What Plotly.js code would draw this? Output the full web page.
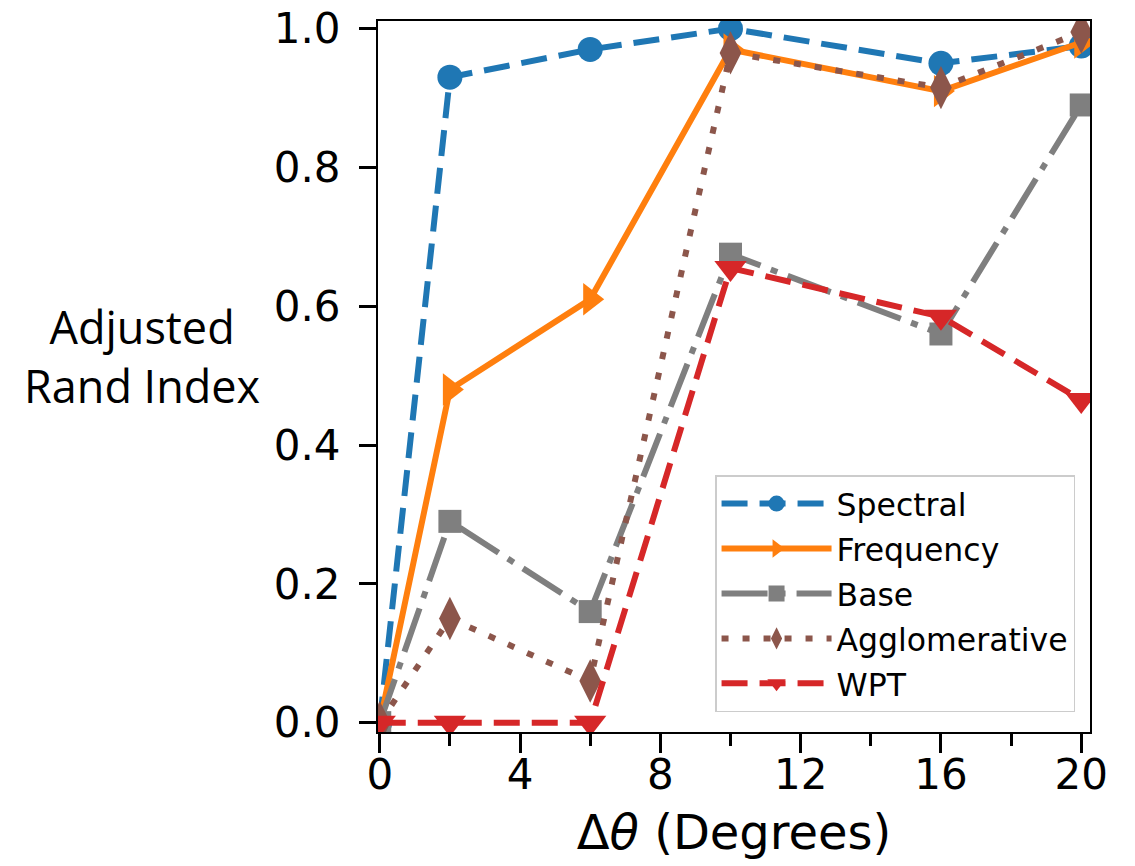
<!DOCTYPE html>
<html>
<head>
<meta charset="utf-8">
<script src="https://cdn.plot.ly/plotly-3.0.1.min.js"></script>
<style>
  html, body { margin: 0; padding: 0; background: #fff; }
  #chart { width: 1135px; height: 866px; }
</style>
</head>
<body>
<div id="chart"></div>
<script>
// Δθ values (degrees)
const deltaTheta = [0, 2, 6, 10, 16, 20];

// Adjusted Rand Index per method
const spectral      = [0, 0.93, 0.97, 1.0, 0.95, 0.975];
const frequency     = [0, 0.48, 0.61, 0.97, 0.91, 0.98];
const base          = [0, 0.29, 0.16, 0.675, 0.56, 0.89];
const agglomerative = [0, 0.15, 0.06, 0.965, 0.915, 0.995];
const wpt           = [0, 0, 0, 0.655, 0.585, 0.465];

const seriesNames = ['Spectral', 'Frequency', 'Base', 'Agglomerative', 'WPT'];
const yTickVals = [0, 0.2, 0.4, 0.6, 0.8, 1.0];
const xTickVals = [0, 4, 8, 12, 16, 20];

const styles = [
  {color: '#1f77b4', dash: '26px,12px', symbol: 'circle', size: 25},
  {color: '#ff7f0e', dash: 'solid', symbol: 'triangle-right', size: 28},
  {color: '#7f7f7f', dash: '46px,11px,7px,11px', symbol: 'square', size: 23},
  {color: '#8c564b', dash: '7px,14px', symbol: 'diamond-tall', size: 31},
  {color: '#d62728', dash: '26px,12px', symbol: 'triangle-down', size: 28}
];

const allY = [spectral, frequency, base, agglomerative, wpt];

const traces = allY.map((ys, i) => ({
  x: deltaTheta,
  y: ys,
  name: seriesNames[i],
  legendgroup: 'g' + i,
  type: 'scatter',
  mode: 'lines+markers',
  line: {color: styles[i].color, width: 6, dash: styles[i].dash},
  marker: {color: styles[i].color, symbol: styles[i].symbol, size: styles[i].size, line: {width: 0}}
}));

const layout = {
  width: 1135,
  height: 866,
  margin: {l: 378, r: 45, t: 21, b: 134},
  paper_bgcolor: '#ffffff',
  plot_bgcolor: '#ffffff',
  showlegend: true,
  legend: {
    x: 0.979, y: 0.028, xanchor: 'right', yanchor: 'bottom',
    bgcolor: 'rgba(255,255,255,0.85)',
    bordercolor: '#cccccc', borderwidth: 1.5,
    font: {family: 'DejaVu Sans', size: 31.5, color: '#000'},
    tracegroupgap: 1,
    itemwidth: 110
  },
  xaxis: {
    range: [-0.05, 20.25],
    tickvals: xTickVals,
    ticktext: xTickVals.map(String),
    ticks: 'outside', ticklen: 19, tickwidth: 3, tickcolor: '#000',
    minor: {dtick: 2, tick0: 0, ticks: 'outside', ticklen: 12, tickwidth: 3, tickcolor: '#000'},
    showline: true, linecolor: '#000', linewidth: 2, mirror: true,
    showgrid: false, zeroline: false,
    ticklabelstandoff: -14,
    tickfont: {family: 'DejaVu Sans', size: 42, color: '#000'},
    title: {text: 'Δ<i>θ</i> (Degrees)', font: {family: 'DejaVu Sans', size: 48, color: '#000'}, standoff: 17}
  },
  yaxis: {
    range: [-0.0135, 1.011],
    tickvals: yTickVals,
    tickformat: '.1f',
    ticks: 'outside', ticklen: 17, tickwidth: 3, tickcolor: '#000',
    showline: true, linecolor: '#000', linewidth: 2, mirror: true,
    showgrid: false, zeroline: false,
    ticklabelstandoff: 10,
    tickfont: {family: 'DejaVu Sans', size: 42, color: '#000'}
  },
  annotations: [{
    text: 'Adjusted<br>Rand Index',
    xref: 'paper', yref: 'paper',
    x: -0.331, y: 0.529, xanchor: 'center', yanchor: 'middle',
    showarrow: false, align: 'center',
    font: {family: 'Open Sans', size: 45, color: '#000'}
  }]
};

Plotly.newPlot('chart', traces, layout, {displayModeBar: false, staticPlot: true});
</script>
</body>
</html>
